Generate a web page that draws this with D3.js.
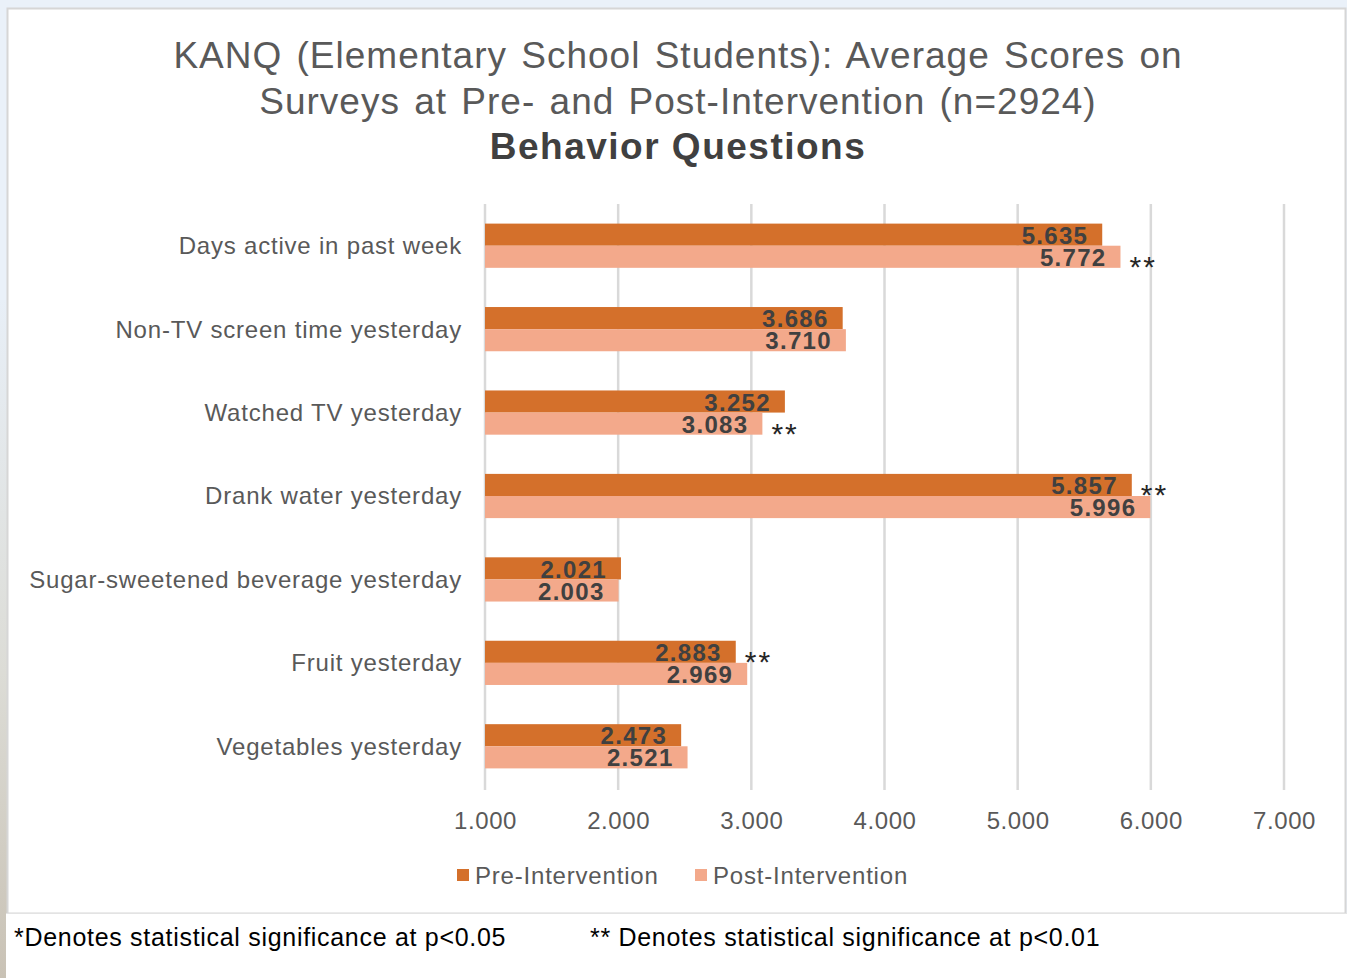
<html>
<head>
  <style>
    body {
      margin: 0;
      background: #eaf1f9;
      font-family: "Liberation Sans", Arial, sans-serif;
    }
    svg { display: block; }
  </style>
</head>
<body>
  <div id="chart"></div>
  <script src="https://d3js.org/d3.v7.min.js"></script>
  <script>
    // data
    var categories = [
      "Days active in past week",
      "Non-TV screen time yesterday",
      "Watched TV yesterday",
      "Drank water yesterday",
      "Sugar-sweetened beverage yesterday",
      "Fruit yesterday",
      "Vegetables yesterday"
    ];
    var seriesNames = ["Pre-Intervention", "Post-Intervention"];
    var preValues = [5.635, 3.686, 3.252, 5.857, 2.021, 2.883, 2.473];
    var postValues = [5.772, 3.710, 3.083, 5.996, 2.003, 2.969, 2.521];
    // "**" markers: [category index, series index]
    var significance = [[0, 1], [2, 1], [3, 0], [5, 0]];
    var xTicks = [1, 2, 3, 4, 5, 6, 7];
    var titleLines = [
      "KANQ (Elementary School Students): Average Scores on",
      "Surveys at Pre- and Post-Intervention (n=2924)"
    ];
    var subtitle = "Behavior Questions";
    var footnotes = [
      "*Denotes statistical significance at p<0.05",
      "** Denotes statistical significance at p<0.01"
    ];

    var width = 1347, height = 978;
    var colors = ["#d4702b", "#f3a98b"];
    var textGray = "#595959";

    var svg = d3.select("#chart").append("svg")
      .attr("width", width)
      .attr("height", height);

    // background photo strip on the left
    var grad = svg.append("defs").append("linearGradient")
      .attr("id", "strip").attr("x1", 0).attr("y1", 0).attr("x2", 0).attr("y2", 1);
    grad.append("stop").attr("offset", "0").attr("stop-color", "#e8eff7");
    grad.append("stop").attr("offset", "0.55").attr("stop-color", "#dcdcd6");
    grad.append("stop").attr("offset", "1").attr("stop-color", "#c9c2b5");

    svg.append("rect").attr("x", 0).attr("y", 0).attr("width", width).attr("height", height)
      .attr("fill", "#eaf1f9");
    svg.append("rect").attr("x", 0).attr("y", 300).attr("width", 8).attr("height", height - 300)
      .attr("fill", "url(#strip)");

    // chart panel
    svg.append("rect")
      .attr("x", 7.5).attr("y", 8.5).attr("width", 1338).attr("height", 905)
      .attr("fill", "#ffffff").attr("stroke", "#d6d6d6").attr("stroke-width", 2);

    // footnote band
    svg.append("rect")
      .attr("x", 6).attr("y", 914).attr("width", width - 6).attr("height", height - 914)
      .attr("fill", "#ffffff");
    svg.append("line")
      .attr("x1", 6).attr("x2", width).attr("y1", 913.5).attr("y2", 913.5)
      .attr("stroke", "#e3e3e3").attr("stroke-width", 1);

    // title
    svg.selectAll("text.title").data(titleLines).enter().append("text")
      .attr("class", "title")
      .attr("x", 678)
      .attr("y", function (d, i) { return 68 + i * 46; })
      .attr("text-anchor", "middle")
      .attr("font-size", 37)
      .attr("fill", textGray)
      .style("letter-spacing", "1px")
      .style("word-spacing", "3px")
      .text(function (d) { return d; });

    svg.append("text")
      .attr("x", 678).attr("y", 159)
      .attr("text-anchor", "middle")
      .attr("font-size", 37).attr("font-weight", "bold")
      .attr("fill", "#404040")
      .style("letter-spacing", "1.5px")
      .text(subtitle);

    // scales
    var x = d3.scaleLinear().domain([1, 7]).range([485, 1284]);
    var y = d3.scaleBand().domain(categories).range([204, 788]).paddingInner(0.47).paddingOuter(0.235);
    var ySub = d3.scaleBand().domain([0, 1]).range([0, y.bandwidth()]);

    // gridlines
    svg.append("g").selectAll("line").data(xTicks).enter().append("line")
      .attr("x1", function (d) { return x(d); })
      .attr("x2", function (d) { return x(d); })
      .attr("y1", 204).attr("y2", 790)
      .attr("stroke", "#d9d9d9").attr("stroke-width", 2.5);

    // x axis tick labels
    var xAxis = d3.axisBottom(x).tickValues(xTicks).tickFormat(d3.format(".3f")).tickSize(0).tickPadding(0);
    var gx = svg.append("g").attr("transform", "translate(0,829)").call(xAxis);
    gx.select(".domain").remove();
    gx.selectAll("text")
      .attr("y", 0).attr("dy", 0)
      .attr("font-family", "Liberation Sans, Arial, sans-serif")
      .attr("font-size", 24).attr("fill", textGray)
      .style("letter-spacing", "0.6px");

    // category labels
    var yAxis = d3.axisLeft(y).tickSize(0).tickPadding(0);
    var gy = svg.append("g").attr("transform", "translate(462,0)").call(yAxis);
    gy.select(".domain").remove();
    gy.selectAll("text")
      .attr("dy", "0.35em")
      .attr("font-family", "Liberation Sans, Arial, sans-serif")
      .attr("font-size", 24).attr("fill", textGray)
      .style("letter-spacing", "0.8px");

    // bars
    var rows = categories.map(function (c, i) {
      return { cat: c, values: [preValues[i], postValues[i]] };
    });

    var groups = svg.append("g").selectAll("g").data(rows).enter().append("g")
      .attr("transform", function (d) { return "translate(0," + y(d.cat) + ")"; });

    groups.selectAll("rect").data(function (d) { return d.values; }).enter().append("rect")
      .attr("x", x(1))
      .attr("y", function (d, i) { return ySub(i); })
      .attr("width", function (d) { return x(d) - x(1); })
      .attr("height", ySub.bandwidth())
      .attr("fill", function (d, i) { return colors[i]; });

    groups.selectAll("text").data(function (d) { return d.values; }).enter().append("text")
      .attr("x", function (d) { return x(d) - 14; })
      .attr("y", function (d, i) { return ySub(i) + ySub.bandwidth() / 2; })
      .attr("dy", "0.38em")
      .attr("text-anchor", "end")
      .attr("font-size", 24).attr("font-weight", "bold")
      .attr("fill", "#404040")
      .style("letter-spacing", "1.3px")
      .text(function (d) { return d3.format(".3f")(d); });

    // significance markers
    svg.append("g").selectAll("text").data(significance).enter().append("text")
      .attr("x", function (d) {
        var v = d[1] === 0 ? preValues[d[0]] : postValues[d[0]];
        return x(v) + 9;
      })
      .attr("y", function (d) { return y(categories[d[0]]) + ySub(d[1]) + ySub.bandwidth() / 2 + 20; })
      .attr("font-size", 30).attr("fill", "#262626")
      .style("letter-spacing", "2px")
      .text("**");

    // legend
    var legendX = [457, 695];
    var legend = svg.append("g").selectAll("g").data(seriesNames).enter().append("g")
      .attr("transform", function (d, i) { return "translate(" + legendX[i] + ",869)"; });
    legend.append("rect").attr("width", 12).attr("height", 12)
      .attr("fill", function (d, i) { return colors[i]; });
    legend.append("text").attr("x", 18).attr("y", 15)
      .attr("font-size", 24).attr("fill", textGray)
      .style("letter-spacing", "0.8px")
      .text(function (d) { return d; });

    // footnotes
    svg.selectAll("text.foot").data(footnotes).enter().append("text")
      .attr("class", "foot")
      .attr("x", function (d, i) { return i === 0 ? 14 : 590; })
      .attr("y", 946)
      .attr("font-size", 25).attr("fill", "#000000")
      .style("letter-spacing", "0.7px")
      .text(function (d) { return d; });
  </script>
</body>
</html>
